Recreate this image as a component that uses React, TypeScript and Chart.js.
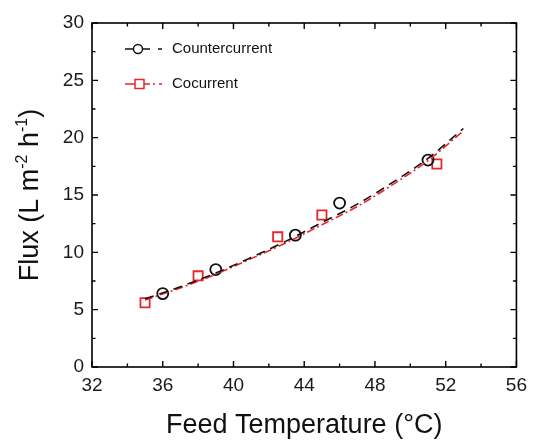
import React, { useEffect, useRef } from "react";
import { Chart, registerables } from "chart.js";

Chart.register(...registerables);

// Measured points
const counterX = [36, 39, 43.5, 46, 51];
const counterY = [6.4, 8.5, 11.5, 14.3, 18.05];
const coX = [35, 38, 42.5, 45, 51.5];
const coY = [5.6, 7.95, 11.35, 13.25, 17.7];

// Fit curves
const fitX = [35, 37, 39, 41, 43, 45, 47, 49, 51, 53];
const counterFitY = [5.95, 7.0, 8.2, 9.55, 11.0, 12.6, 14.2, 16.1, 18.2, 20.8];
const coFitY = [5.85, 6.9, 8.1, 9.45, 10.85, 12.4, 14.0, 15.9, 18.0, 20.6];

const xTicks = [32, 36, 40, 44, 48, 52, 56];
const yTicks = [0, 5, 10, 15, 20, 25, 30];

const FONT = "'Liberation Sans', Arial, Helvetica, sans-serif";
const RED = "#e8262b";
const BLACK = "#111111";

const toPts = (xs: number[], ys: number[]) => xs.map((x, i) => ({ x, y: ys[i] }));

const decorPlugin = {
  id: "decor",
  afterDraw(chart: any) {
    const { ctx, chartArea } = chart;
    const { left, right, top, bottom } = chartArea;
    const xs = chart.scales.x;
    const ys = chart.scales.y;
    ctx.save();
    // frame
    ctx.strokeStyle = "#000";
    ctx.lineWidth = 1.6;
    ctx.setLineDash([]);
    ctx.strokeRect(left, top, right - left, bottom - top);
    // ticks
    ctx.lineWidth = 1.4;
    for (let v = 32; v <= 56; v += 2) {
      const p = xs.getPixelForValue(v);
      const len = v % 4 === 0 ? 6 : 3.5;
      ctx.beginPath();
      ctx.moveTo(p, bottom);
      ctx.lineTo(p, bottom - len);
      ctx.moveTo(p, top);
      ctx.lineTo(p, top + len);
      ctx.stroke();
    }
    for (let v = 0; v <= 30; v += 2.5) {
      const p = ys.getPixelForValue(v);
      const len = v % 5 === 0 ? 6 : 3.5;
      ctx.beginPath();
      ctx.moveTo(left, p);
      ctx.lineTo(left + len, p);
      ctx.moveTo(right, p);
      ctx.lineTo(right - len, p);
      ctx.stroke();
    }

    // legend
    ctx.lineWidth = 1.5;
    const y1 = 49;
    ctx.strokeStyle = BLACK;
    ctx.beginPath();
    ctx.moveTo(125, y1);
    ctx.lineTo(150, y1);
    ctx.moveTo(158, y1);
    ctx.lineTo(162, y1);
    ctx.stroke();
    ctx.fillStyle = "#fff";
    ctx.beginPath();
    ctx.arc(138, y1, 4.5, 0, Math.PI * 2);
    ctx.fill();
    ctx.stroke();
    const y2 = 84;
    ctx.strokeStyle = RED;
    ctx.beginPath();
    ctx.moveTo(125, y2);
    ctx.lineTo(150, y2);
    ctx.moveTo(153, y2);
    ctx.lineTo(155, y2);
    ctx.moveTo(159, y2);
    ctx.lineTo(162, y2);
    ctx.stroke();
    ctx.fillStyle = "#fff";
    ctx.fillRect(135, y2 - 4.5, 9, 9);
    ctx.strokeRect(135, y2 - 4.5, 9, 9);

    ctx.fillStyle = "#111";
    ctx.font = `15px ${FONT}`;
    ctx.textAlign = "left";
    ctx.textBaseline = "middle";
    ctx.fillText("Countercurrent", 172, y1);
    ctx.fillText("Cocurrent", 172, y2);

    // x title
    ctx.font = `27px ${FONT}`;
    ctx.textAlign = "center";
    ctx.textBaseline = "alphabetic";
    ctx.fillText("Feed Temperature (°C)", (left + right) / 2, 433);

    // y title with superscripts
    const big = `27px ${FONT}`;
    const small = `16px ${FONT}`;
    const parts: [string, boolean][] = [
      ["Flux (L m", false],
      ["-2", true],
      [" h", false],
      ["-1", true],
      [")", false],
    ];
    let total = 0;
    const widths = parts.map(([t, sup]) => {
      ctx.font = sup ? small : big;
      const w = ctx.measureText(t).width;
      total += w;
      return w;
    });
    ctx.translate(38, (top + bottom) / 2);
    ctx.rotate(-Math.PI / 2);
    ctx.textAlign = "left";
    let cx = -total / 2;
    parts.forEach(([t, sup], i) => {
      ctx.font = sup ? small : big;
      ctx.fillText(t, cx, sup ? -11 : 0);
      cx += widths[i];
    });
    ctx.restore();
  },
};

export default function App() {
  const ref = useRef<HTMLCanvasElement | null>(null);
  useEffect(() => {
    document.body.style.margin = "0";
    const canvas = ref.current!;
    const chart = new Chart(canvas, {
      type: "scatter",
      data: {
        datasets: [
          {
            label: "Countercurrent fit",
            data: toPts(fitX, counterFitY),
            showLine: true,
            borderColor: BLACK,
            borderWidth: 1.6,
            borderDash: [9, 6],
            pointRadius: 0,
            cubicInterpolationMode: "monotone",
            fill: false,
          },
          {
            label: "Cocurrent fit",
            data: toPts(fitX, coFitY),
            showLine: true,
            borderColor: RED,
            borderWidth: 1.6,
            borderDash: [8, 3, 2, 3],
            pointRadius: 0,
            cubicInterpolationMode: "monotone",
            fill: false,
          },
          {
            label: "Countercurrent",
            data: toPts(counterX, counterY),
            showLine: false,
            pointStyle: "circle",
            pointRadius: 5.5,
            borderColor: BLACK,
            backgroundColor: "rgba(0,0,0,0)",
            borderWidth: 1.8,
          },
          {
            label: "Cocurrent",
            data: toPts(coX, coY),
            showLine: false,
            pointStyle: "rect",
            pointRadius: 6.5,
            borderColor: RED,
            backgroundColor: "rgba(0,0,0,0)",
            borderWidth: 1.8,
          },
        ],
      },
      options: {
        animation: false,
        responsive: false,
        maintainAspectRatio: false,
        layout: { padding: { top: 23, right: 16, left: 0, bottom: 0 } },
        plugins: { legend: { display: false }, tooltip: { enabled: false } },
        scales: {
          x: {
            type: "linear",
            min: 32,
            max: 56,
            afterFit: (s: any) => {
              s.height = 75;
            },
            afterBuildTicks: (s: any) => {
              s.ticks = xTicks.map((v) => ({ value: v }));
            },
            grid: { display: false, drawTicks: false },
            border: { display: false },
            ticks: { color: "#1a1a1a", font: { family: FONT, size: 19 }, padding: 7 },
          },
          y: {
            type: "linear",
            min: 0,
            max: 30,
            afterFit: (s: any) => {
              s.width = 92;
            },
            afterBuildTicks: (s: any) => {
              s.ticks = yTicks.map((v) => ({ value: v }));
            },
            grid: { display: false, drawTicks: false },
            border: { display: false },
            ticks: { color: "#1a1a1a", font: { family: FONT, size: 19 }, padding: 8 },
          },
        },
      },
      plugins: [decorPlugin],
    });
    return () => chart.destroy();
  }, []);
  return <canvas ref={ref} width={534} height={442} style={{ display: "block" }} />;
}
